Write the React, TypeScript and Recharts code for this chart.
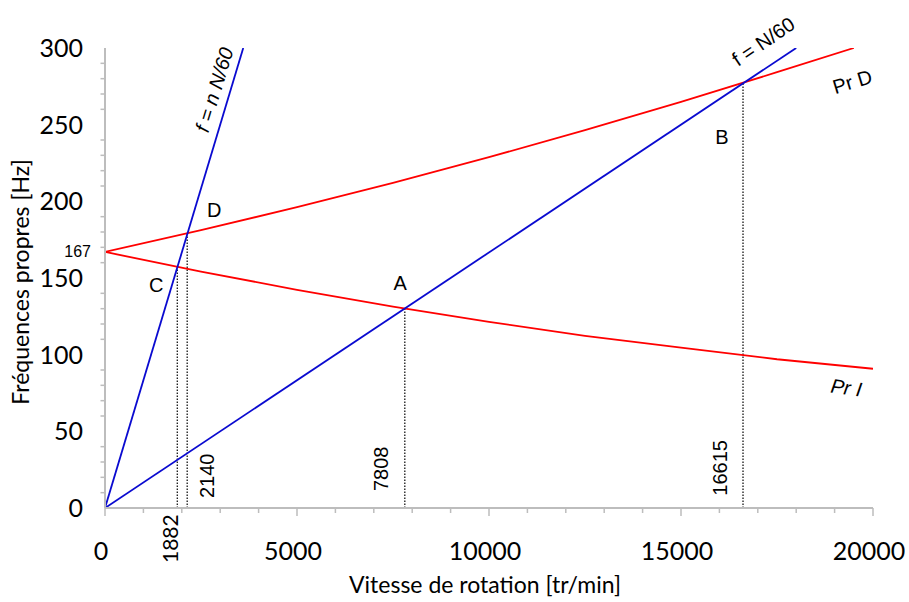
import React from "react";
import { Line, LineChart, ReferenceDot, XAxis, YAxis } from "recharts";

// régime moteur [tr/min] et fréquences propres [Hz]
const PR_D_SPEED = [0, 2500, 5000, 7500, 10000, 12500, 15000, 17500, 19500];
const PR_D_FREQ = [167, 181.2, 196.2, 212.1, 228.8, 246.4, 264.9, 284.2, 300];
const PR_I_SPEED = [0, 2500, 5000, 7500, 10000, 12500, 15000, 17500, 20000];
const PR_I_FREQ = [167, 154.2, 142.3, 131.4, 121.4, 112.3, 104.6, 97.0, 90.8];
const N1_SPEED = [0, 18000];
const N1_FREQ = [0, 300];
const N5_SPEED = [0, 3600];
const N5_FREQ = [0, 300];

// points de croisement C, D, A, B
const CROSS_SPEED = [1882, 2140, 7808, 16615];
const CROSS_FREQ = [156.8, 178.3, 130.1, 276.9];

const X_TICKS = [
	0, 1000, 2000, 3000, 4000, 5000, 6000, 7000, 8000, 9000, 10000, 11000, 12000,
	13000, 14000, 15000, 16000, 17000, 18000, 19000, 20000,
];
const Y_TICKS = [
	0, 10, 20, 30, 40, 50, 60, 70, 80, 90, 100, 110, 120, 130, 140, 150, 160, 170,
	180, 190, 200, 210, 220, 230, 240, 250, 260, 270, 280, 290, 300,
];

type Note = {
	text: string;
	x: number;
	y: number;
	angle: number;
	italic?: boolean;
	font?: string;
	size?: number;
	anchor?: "start" | "middle" | "end";
	dx?: number;
};

const NOTES: Note[] = [
	{ text: "f = n N/60", x: 2846, y: 272.8, angle: -73, italic: true },
	{ text: "f = N/60", x: 17143, y: 304.2, angle: -34 },
	{ text: "Pr D", x: 19461, y: 278, angle: -17 },
	{ text: "Pr I", x: 19305, y: 78.5, angle: 8, italic: true },
	{ text: "A", x: 7690, y: 146.7, angle: 0 },
	{ text: "B", x: 16068, y: 242, angle: 0 },
	{ text: "C", x: 1336, y: 145.6, angle: 0 },
	{ text: "D", x: 2846, y: 194.5, angle: 0 },
	{ text: "2140", x: 2664, y: 21, angle: -90 },
	{ text: "7808", x: 7187, y: 25.6, angle: -90 },
	{ text: "16615", x: 16023, y: 26.2, angle: -90 },
	{ text: "1882", x: 1675, y: -20, angle: -90, font: "Lato", size: 21 },
	{ text: "167", x: 0, y: 167, angle: 0, size: 16, anchor: "end", dx: -14 },
];

const toPoints = (xs: number[], ys: number[]) =>
	xs.map((x, i) => ({ x, y: ys[i] }));

const AXIS_GREY = "#bdbdbd";
const TICK_FONT = "Lato, 'Open Sans', sans-serif";

const XTick = (props: any) => {
	const { x, y, payload } = props;
	const v = payload.value as number;
	const major = v % 5000 === 0;
	return (
		<g>
			<line
				x1={x}
				x2={x}
				y1={y}
				y2={y + (major ? 8 : 5)}
				stroke={AXIS_GREY}
				strokeWidth={1.5}
			/>
			{major && (
				<text
					x={x - 4}
					y={y + 52}
					textAnchor="middle"
					fontFamily={TICK_FONT}
					fontSize={25}
					fill="#000"
				>
					{v}
				</text>
			)}
		</g>
	);
};

const YTick = (props: any) => {
	const { x, y, payload } = props;
	const v = payload.value as number;
	const major = v % 50 === 0;
	return (
		<g>
			{!major && (
				<line
					x1={x - 4.5}
					x2={x}
					y1={y}
					y2={y}
					stroke={AXIS_GREY}
					strokeWidth={1.5}
				/>
			)}
			{major && (
				<text
					x={x - 22}
					y={y + 9}
					textAnchor="end"
					fontFamily={TICK_FONT}
					fontSize={25}
					fill="#000"
				>
					{v}
				</text>
			)}
		</g>
	);
};

const noteLabel = (n: Note) => (props: any) => {
	const vb = props.viewBox;
	const cx = vb.x + (vb.width || 0) / 2 + (n.dx || 0);
	const cy = vb.y + (vb.height || 0) / 2;
	return (
		<text
			x={cx}
			y={cy}
			transform={`rotate(${n.angle} ${cx} ${cy})`}
			textAnchor={n.anchor || "middle"}
			dominantBaseline="central"
			fontFamily={n.font || "'Liberation Sans', Arial, sans-serif"}
			fontStyle={n.italic ? "italic" : "normal"}
			fontSize={n.size || 20}
			fill="#000"
		>
			{n.text}
		</text>
	);
};

const App = () => {
	const prD = toPoints(PR_D_SPEED, PR_D_FREQ);
	const prI = toPoints(PR_I_SPEED, PR_I_FREQ);
	const n1 = toPoints(N1_SPEED, N1_FREQ);
	const n5 = toPoints(N5_SPEED, N5_FREQ);

	return (
		<div style={{ position: "absolute", left: 0, top: 0 }}>
			<LineChart
				width={905}
				height={600}
				margin={{ top: 48, right: 32, bottom: 32, left: 45 }}
			>
				<XAxis
					type="number"
					dataKey="x"
					domain={[0, 20000]}
					ticks={X_TICKS}
					interval={0}
					height={60}
					allowDataOverflow
					axisLine={{ stroke: AXIS_GREY, strokeWidth: 2 }}
					tickLine={false}
					tickSize={0}
					tickMargin={0}
					tick={<XTick />}
					label={{
						content: () => (
							<text
								x={485}
								y={593}
								textAnchor="middle"
								fontFamily={TICK_FONT}
								fontSize={23}
								fill="#000"
							>
								Vitesse de rotation [tr/min]
							</text>
						),
					}}
				/>
				<YAxis
					type="number"
					dataKey="y"
					domain={[0, 300]}
					ticks={Y_TICKS}
					interval={0}
					width={60}
					allowDataOverflow
					axisLine={{ stroke: AXIS_GREY, strokeWidth: 2 }}
					tickLine={false}
					tickSize={0}
					tickMargin={0}
					tick={<YTick />}
					label={{
						content: () => (
							<text
								x={29}
								y={282}
								transform="rotate(-90 29 282)"
								textAnchor="middle"
								fontFamily={TICK_FONT}
								fontSize={23}
								fill="#000"
							>
								Fréquences propres [Hz]
							</text>
						),
					}}
				/>
				{CROSS_SPEED.map((s, i) => (
					<Line
						key={`cross-${s}`}
						data={[
							{ x: s, y: 0 },
							{ x: s, y: CROSS_FREQ[i] },
						]}
						dataKey="y"
						type="linear"
						stroke="#000"
						strokeWidth={1.2}
						strokeDasharray="1.5 1.5"
						dot={false}
						activeDot={false}
						isAnimationActive={false}
					/>
				))}
				<Line
					data={prD}
					dataKey="y"
					name="Pr D"
					type="linear"
					stroke="#ff0000"
					strokeWidth={1.8}
					dot={false}
					activeDot={false}
					isAnimationActive={false}
				/>
				<Line
					data={prI}
					dataKey="y"
					name="Pr I"
					type="linear"
					stroke="#ff0000"
					strokeWidth={1.8}
					dot={false}
					activeDot={false}
					isAnimationActive={false}
				/>
				<Line
					data={n1}
					dataKey="y"
					name="f = N/60"
					type="linear"
					stroke="#0a0ad0"
					strokeWidth={1.8}
					dot={false}
					activeDot={false}
					isAnimationActive={false}
				/>
				<Line
					data={n5}
					dataKey="y"
					name="f = n N/60"
					type="linear"
					stroke="#0a0ad0"
					strokeWidth={1.8}
					dot={false}
					activeDot={false}
					isAnimationActive={false}
				/>
				{NOTES.map((n) => (
					<ReferenceDot
						key={n.text}
						x={n.x}
						y={n.y}
						r={0}
						fill="none"
						stroke="none"
						ifOverflow="visible"
						label={noteLabel(n)}
					/>
				))}
			</LineChart>
		</div>
	);
};

export default App;
